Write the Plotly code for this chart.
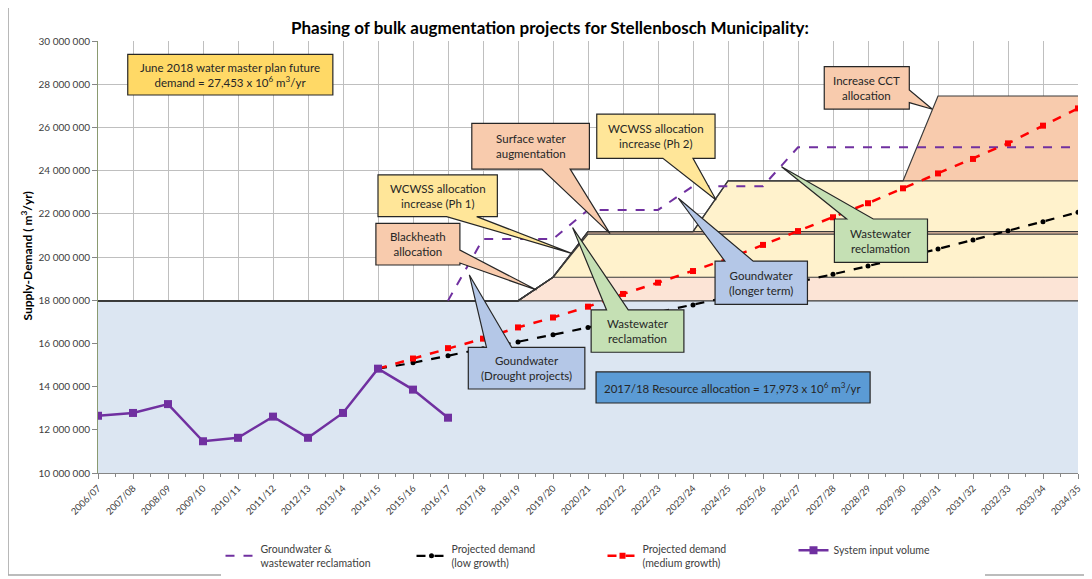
import plotly.graph_objects as go
import numpy as np

# ---------------------------------------------------------------
# data (values in million m3/yr)
# ---------------------------------------------------------------
years = ["2006/07", "2007/08", "2008/09", "2009/10", "2010/11", "2011/12", "2012/13",
         "2013/14", "2014/15", "2015/16", "2016/17", "2017/18", "2018/19", "2019/20",
         "2020/21", "2021/22", "2022/23", "2023/24", "2024/25", "2025/26", "2026/27",
         "2027/28", "2028/29", "2029/30", "2030/31", "2031/32", "2032/33", "2033/34",
         "2034/35"]

system_input = [12.65, 12.78, 13.19, 11.47, 11.63, 12.61, 11.63, 12.78, 14.83, 13.86, 12.56]

demand_medium = [14.83, 15.30, 15.78, 16.22, 16.74, 17.20, 17.70, 18.29, 18.81, 19.35, 19.92,
                 20.56, 21.20, 21.84, 22.49, 23.18, 23.87, 24.54, 25.26, 26.08, 26.88]
demand_low = [14.83, 15.10, 15.43, 15.75, 16.06, 16.40, 16.74, 17.09, 17.43, 17.78, 18.12,
              18.47, 18.83, 19.20, 19.58, 19.97, 20.37, 20.79, 21.22, 21.63, 22.07]

gw_ww = [17.98, 20.83, 20.83, 20.83, 22.18, 22.18, 22.18, 23.28, 23.28, 23.28, 25.08,
         25.08, 25.08, 25.08, 25.08, 25.08, 25.08, 25.08, 25.08]

# stacked supply layers (increments per year)
base_alloc = [17.973] * 29
blackheath = [0] * 13 + [1.09] * 16
wcwss_ph1 = [0] * 14 + [2.0] * 15
surface_water = [0] * 14 + [0.11] * 15
wcwss_ph2 = [0] * 18 + [2.35] * 11
cct = [0] * 24 + [3.93] * 5

FONT = "Lato, Open Sans, sans-serif"
TXT = "#404040"
M = 1e6

x_all = list(range(len(years)))
fig = go.Figure()

# ---------------------------------------------------------------
# stacked allocation areas
# ---------------------------------------------------------------
layers = [(base_alloc, "#dce6f2"), (blackheath, "#fce4d6"), (wcwss_ph1, "#fff2cc"),
          (surface_water, "#f8cbad"), (wcwss_ph2, "#fff2cc"), (cct, "#f8cbad")]
for vals, col in layers:
    fig.add_trace(go.Scatter(x=x_all, y=np.array(vals) * M, stackgroup="supply",
                             mode="lines", fillcolor=col,
                             line=dict(color="#3a3a3a", width=1.2),
                             showlegend=False, hoverinfo="skip"))

# ---------------------------------------------------------------
# lines
# ---------------------------------------------------------------
fig.add_trace(go.Scatter(x=x_all[10:], y=np.array(gw_ww) * M, mode="lines",
                         name="Groundwater &<br>wastewater reclamation",
                         line=dict(color="#7030a0", width=2, dash="dash")))
fig.add_trace(go.Scatter(x=x_all[8:], y=np.array(demand_low) * M, mode="lines+markers",
                         name="Projected demand<br>(low growth)",
                         line=dict(color="black", width=2.2, dash="dash"),
                         marker=dict(symbol="circle", size=5, color="black")))
fig.add_trace(go.Scatter(x=x_all[8:], y=np.array(demand_medium) * M, mode="lines+markers",
                         name="Projected demand<br>(medium growth)",
                         line=dict(color="#ff0000", width=2.5, dash="dash"),
                         marker=dict(symbol="square", size=6, color="#ff0000")))
fig.add_trace(go.Scatter(x=x_all[:11], y=np.array(system_input) * M, mode="lines+markers",
                         name="System input volume",
                         line=dict(color="#7030a0", width=2.5),
                         marker=dict(symbol="square", size=8, color="#7030a0")))

# ---------------------------------------------------------------
# callouts: box (x0, x1, y_bottom, y_top), wedge side, base points, tip
# ---------------------------------------------------------------
def callout_path(box, side, base, tip):
    x0, x1, yb, yt = box
    if side == "bottom":
        pts = [(x0, yt), (x1, yt), (x1, yb), (base[1], yb), tip, (base[0], yb), (x0, yb)]
    elif side == "top":
        pts = [(x0, yt), (base[0], yt), tip, (base[1], yt), (x1, yt), (x1, yb), (x0, yb)]
    elif side == "right":
        pts = [(x0, yt), (x1, yt), (x1, base[0]), tip, (x1, base[1]), (x1, yb), (x0, yb)]
    else:
        pts = [(x0, yt), (x1, yt), (x1, yb), (x0, yb)]
    return "M " + " L ".join(f"{px},{py * M}" for px, py in pts) + " Z"

callouts = [
    ("June 2018 water master plan future<br>demand = 27,453 x 10<sup>6</sup> m<sup>3</sup>/yr",
     (0.85, 6.71, 27.50, 29.38), None, None, None, "#ffd966"),
    ("Increase CCT<br>allocation", (20.75, 23.18, 26.85, 28.81), "right", (27.73, 27.15),
     (23.84, 26.84), "#f8cbad"),
    ("Surface water<br>augmentation", (10.68, 14.04, 24.07, 26.19), "bottom", (12.68, 13.49),
     (14.63, 21.08), "#f8cbad"),
    ("WCWSS allocation<br>increase (Ph 2)", (14.25, 17.63, 24.57, 26.61), "bottom", (16.14, 17.0),
     (17.66, 22.64), "#ffe699"),
    ("WCWSS allocation<br>increase (Ph 1)", (8.0, 11.41, 21.87, 23.80), "bottom", (9.96, 10.82),
     (13.53, 20.17), "#ffe699"),
    ("Blackheath<br>allocation", (7.94, 10.34, 19.63, 21.56), "right", (20.32, 19.72),
     (12.53, 18.47), "#f8cbad"),
    ("Goundwater<br>(Drought projects)", (10.58, 13.91, 13.89, 15.82), "top", (11.1, 11.82),
     (10.61, 19.17), "#b4c7e7"),
    ("Wastewater<br>reclamation", (14.09, 16.74, 15.59, 17.55), "top", (14.53, 15.15),
     (13.56, 21.36), "#c5e0b4"),
    ("Goundwater<br>(longer term)", (17.63, 20.27, 17.81, 19.81), "top", (17.91, 18.72),
     (16.58, 22.72), "#b4c7e7"),
    ("Wastewater<br>reclamation", (21.04, 23.70, 19.75, 21.76), "top", (21.39, 22.15),
     (19.53, 24.18), "#c5e0b4"),
    ("2017/18 Resource allocation = 17,973 x 10<sup>6</sup> m<sup>3</sup>/yr",
     (14.23, 22.06, 13.24, 14.68), None, None, None, "#5b9bd5"),
]

for text, box, side, base, tip, col in callouts:
    fig.add_shape(type="path", xref="x", yref="y", path=callout_path(box, side, base, tip),
                  fillcolor=col, line=dict(color="#262626", width=1.2), layer="above")
    fig.add_annotation(x=(box[0] + box[1]) / 2, y=(box[2] + box[3]) / 2 * M, text=text,
                       showarrow=False, xref="x", yref="y",
                       font=dict(family=FONT, size=11.5, color="#262626"))

# title and y axis label
fig.add_annotation(text="<b>Phasing of bulk augmentation projects for Stellenbosch Municipality:</b>",
                   x=0.461, y=1.032, xref="paper", yref="paper", showarrow=False,
                   xanchor="center", yanchor="middle",
                   font=dict(family=FONT, size=17, color="black"))
fig.add_annotation(text="<b>Supply-Demand ( m<sup>3</sup>/yr)</b>", textangle=-90,
                   x=-0.072, y=0.502, xref="paper", yref="paper", showarrow=False,
                   xanchor="center", yanchor="middle",
                   font=dict(family=FONT, size=12, color="black"))

# outer chart frame
fig.add_shape(type="rect", xref="paper", yref="paper", x0=-0.0918, x1=1.0122,
              y0=-0.236, y1=1.083, line=dict(color="#a6a6a6", width=1.5), layer="below")

# the page body adds an 8px offset, so the figure is sized 8px smaller
fig.update_layout(
    width=1084, height=571,
    margin=dict(l=90, r=14, t=33, b=106, autoexpand=False),
    plot_bgcolor="white", paper_bgcolor="white",
    separators=". ",
    font=dict(family=FONT, color=TXT),
    legend=dict(orientation="h", x=0.125, y=-0.145, xanchor="left", yanchor="top",
                traceorder="normal", entrywidth=146, entrywidthmode="pixels",
                font=dict(family=FONT, size=10.5, color=TXT), itemwidth=30),
    xaxis=dict(range=[0, 28], tickvals=x_all, ticktext=years, tickangle=-45,
               tickfont=dict(size=9.5, color=TXT), showgrid=True, gridcolor="#bfbfbf",
               ticks="outside", ticklen=5, tickcolor="#868686",
               showline=True, linecolor="#868686", linewidth=1, zeroline=False,
               minor=dict(dtick=0.5, tick0=0, ticks="outside", ticklen=3,
                          tickcolor="#868686", showgrid=False)),
    yaxis=dict(range=[10e6, 30e6], dtick=2e6, tickformat=",d",
               tickfont=dict(size=10, color=TXT), showgrid=True, gridcolor="#bfbfbf",
               ticks="outside", ticklen=5, tickcolor="#868686",
               showline=True, linecolor="#8a9a70", linewidth=1, zeroline=False),
)

fig.write_html("out.html")
